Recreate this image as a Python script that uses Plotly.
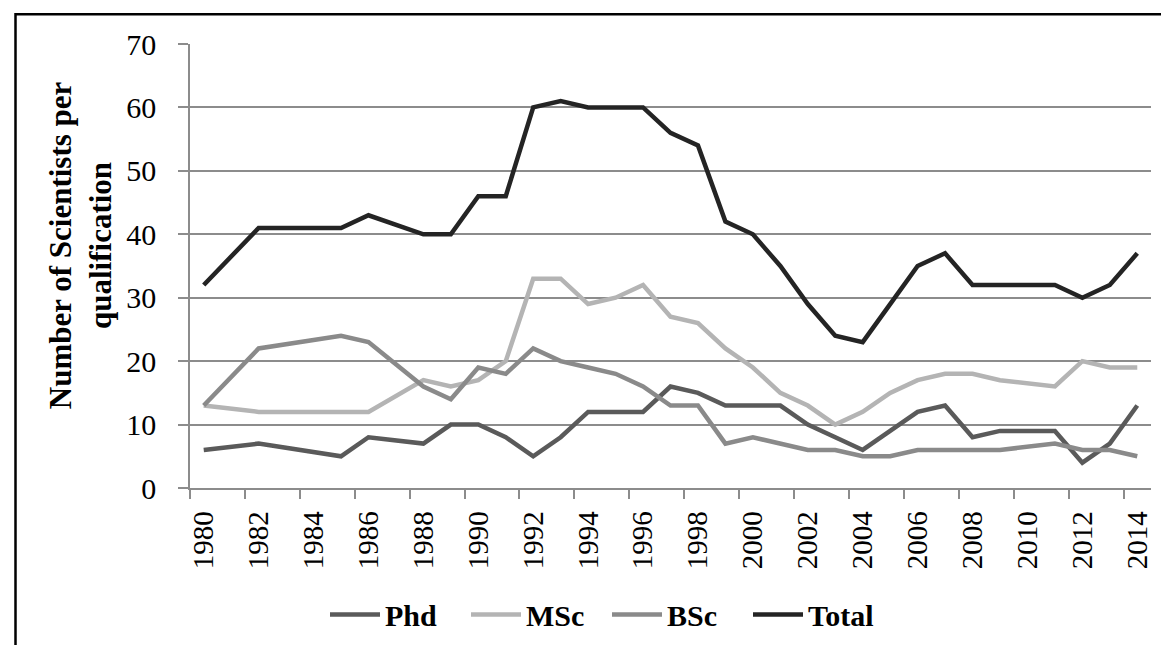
import plotly.graph_objects as go

years = list(range(1980, 2015))
# None = year without data point (line connected across, as in the source)
phd = [6, None, 7, None, None, 5, 8, None, 7, 10, 10, 8, 5, 8, 12, 12, 12, 16, 15, 13,
       13, 13, 10, 8, 6, 9, 12, 13, 8, 9, None, 9, 4, 7, 13]
msc = [13, None, 12, None, None, 12, 12, None, 17, 16, 17, 20, 33, 33, 29, 30, 32, 27, 26, 22,
       19, 15, 13, 10, 12, 15, 17, 18, 18, 17, None, 16, 20, 19, 19]
bsc = [13, None, 22, None, None, 24, 23, None, 16, 14, 19, 18, 22, 20, 19, 18, 16, 13, 13, 7,
       8, 7, 6, 6, 5, 5, 6, 6, 6, 6, None, 7, 6, 6, 5]
total = [32, None, 41, None, None, 41, 43, None, 40, 40, 46, 46, 60, 61, 60, 60, 60, 56, 54, 42,
         40, 35, 29, 24, 23, 29, 35, 37, 32, 32, None, 32, 30, 32, 37]

tick_years = list(range(1980, 2015, 2))

series = [("Phd", phd, "#5a5a5a"), ("MSc", msc, "#b4b4b4"),
          ("BSc", bsc, "#8a8a8a"), ("Total", total, "#242424")]

FONT = "Liberation Serif"
GRID = "#8c8c8c"

fig = go.Figure()
for name, vals, col in series:
    fig.add_trace(go.Scatter(x=years, y=vals, name=name, mode="lines",
                             connectgaps=True,
                             line=dict(color=col, width=4.5)))

fig.update_layout(
    width=1169, height=645,
    margin=dict(l=182, r=26, t=36, b=165),
    paper_bgcolor="white", plot_bgcolor="white",
    font=dict(family=FONT, color="black", size=29),
    showlegend=True,
    legend=dict(orientation="h", x=(317 - 182) / 961, xanchor="left",
                y=(480.3 - 606.7) / 444, yanchor="middle",
                font=dict(family=FONT, size=30, color="black", weight="bold"),
                itemwidth=50, entrywidth=76, entrywidthmode="pixels",
                tracegroupgap=0, bgcolor="rgba(0,0,0,0)", borderwidth=0),
)

fig.update_xaxes(
    range=[1979.5, 2014.5], tickmode="array", tickvals=tick_years,
    ticktext=[str(y) for y in tick_years], tickangle=-90,
    ticks="", showgrid=False, zeroline=False,
    showline=True, linecolor=GRID, linewidth=1.5,
    tickfont=dict(family=FONT, size=29, color="black"),
    ticklabelstandoff=10,
    minor=dict(ticks="outside", tick0=1979.5, dtick=2, ticklen=9,
               tickcolor=GRID, tickwidth=1.5, showgrid=False),
)
fig.update_yaxes(
    range=[0, 70], tickmode="linear", tick0=0, dtick=10,
    ticks="outside", ticklen=10, tickcolor=GRID, tickwidth=1.5,
    showgrid=True, gridcolor=GRID, gridwidth=1.5, zeroline=False,
    showline=True, linecolor=GRID, linewidth=1.5,
    tickfont=dict(family=FONT, size=30, color="black"),
    ticklabelstandoff=16,
)

fig.add_annotation(
    text="Number of Scientists per<br>qualification", textangle=-90,
    xref="paper", yref="paper", x=(72 - 182) / 961, y=(480.3 - 237.5) / 444,
    xanchor="center", yanchor="middle", showarrow=False,
    font=dict(family=FONT, size=31, color="black", weight="bold"),
)

# outer chart border (extends past right/bottom of the image)
fig.add_shape(type="rect", xref="paper", yref="paper",
              x0=(7.5 - 182) / 961, x1=1.2, y0=-0.6, y1=(480.3 - 6.5) / 444,
              line=dict(color="black", width=2.5), fillcolor="rgba(0,0,0,0)",
              layer="below")

fig.write_html("out.html")
